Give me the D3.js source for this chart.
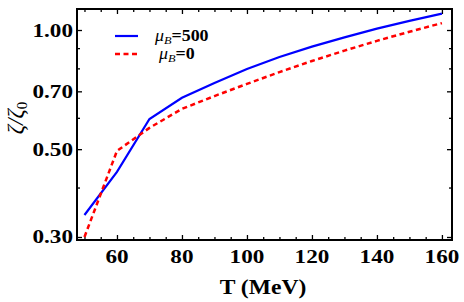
<!DOCTYPE html>
<html>
<head>
<meta charset="utf-8">
<script src="https://cdn.jsdelivr.net/npm/d3@7"></script>
<style>
  body { margin: 0; background: #fff; }
  svg { display: block; }
</style>
</head>
<body>
<svg id="chart" width="464" height="302"></svg>
<script>
// temperature grid (MeV)
var temps = [50, 60, 70, 80, 90, 100, 110, 120, 130, 140, 150, 160];
// zeta/zeta0 for mu_B = 500
var blueVals = [0.341, 0.438, 0.596, 0.674, 0.735, 0.797, 0.855, 0.908, 0.958, 1.008, 1.055, 1.10];
// zeta/zeta0 for mu_B = 0
var redVals = [0.300, 0.495, 0.566, 0.632, 0.681, 0.731, 0.783, 0.835, 0.887, 0.939, 0.990, 1.041];

var xMajor = [60, 80, 100, 120, 140, 160];
var yMajor = [0.30, 0.50, 0.70, 1.00];
var yMinor = [0.4, 0.6, 0.8, 0.9];

var svg = d3.select("#chart");
var pLeft = 77, pRight = 452, pTop = 9, pBottom = 240;
var stretch = 1.22;

var x = d3.scaleLinear().domain([47.7, 163.1]).range([pLeft, pRight]);
var y = d3.scaleLog().domain([0.2948, 1.130]).range([pBottom, pTop]);

var xMinor = d3.range(50, 165, 5).filter(function(d) { return xMajor.indexOf(d) < 0; });

// ticks on four sides, pointing inward
function ticks(axisFn, scale, vals, size, tr) {
  var g = svg.append("g").attr("transform", tr)
    .call(axisFn(scale).tickValues(vals).tickSize(size).tickFormat(""));
  g.select(".domain").remove();
  g.selectAll("line").attr("stroke", "#000").attr("stroke-width", 1.3);
}
ticks(d3.axisTop, x, xMajor, 5, "translate(0," + pBottom + ")");
ticks(d3.axisTop, x, xMinor, 3, "translate(0," + pBottom + ")");
ticks(d3.axisBottom, x, xMajor, 5, "translate(0," + pTop + ")");
ticks(d3.axisBottom, x, xMinor, 3, "translate(0," + pTop + ")");
ticks(d3.axisRight, y, yMajor, 5, "translate(" + pLeft + ",0)");
ticks(d3.axisRight, y, yMinor, 3, "translate(" + pLeft + ",0)");
ticks(d3.axisLeft, y, yMajor, 5, "translate(" + pRight + ",0)");
ticks(d3.axisLeft, y, yMinor, 3, "translate(" + pRight + ",0)");

// frame
svg.append("rect")
  .attr("x", pLeft).attr("y", pTop)
  .attr("width", pRight - pLeft).attr("height", pBottom - pTop)
  .attr("fill", "none").attr("stroke", "#000").attr("stroke-width", 2);

// tick labels
var font = "'Liberation Serif', 'Times New Roman', serif";
svg.selectAll(".xl").data(xMajor).enter().append("text")
  .attr("transform", function(d) { return "translate(" + x(d) + ",263) scale(" + stretch + ",1)"; })
  .attr("text-anchor", "middle")
  .attr("font-family", font).attr("font-weight", "bold").attr("font-size", 19)
  .text(function(d) { return d; });

svg.selectAll(".yl").data(yMajor).enter().append("text")
  .attr("transform", function(d) { return "translate(" + (pLeft - 4) + "," + (y(d) + 6.5) + ") scale(" + stretch + ",1)"; })
  .attr("text-anchor", "end")
  .attr("font-family", font).attr("font-weight", "bold").attr("font-size", 19)
  .text(function(d) { return d.toFixed(2); });

// axis titles
svg.append("text")
  .attr("transform", "translate(263,294) scale(1.18,1)")
  .attr("text-anchor", "middle")
  .attr("font-family", font).attr("font-weight", "bold").attr("font-size", 20)
  .text("T (MeV)");

var yt = svg.append("text")
  .attr("transform", "translate(23,118) rotate(-90)")
  .attr("text-anchor", "middle")
  .attr("font-family", font).attr("font-style", "italic").attr("font-size", 23);
yt.append("tspan").text("\u03B6/\u03B6");
yt.append("tspan").attr("font-size", 15).attr("dy", 4).attr("font-style", "normal").text("0");

// curves
var blueData = temps.map(function(t, i) { return [t, blueVals[i]]; });
var redData = temps.map(function(t, i) { return [t, redVals[i]]; });
var line = d3.line().x(function(d) { return x(d[0]); }).y(function(d) { return y(d[1]); });

svg.append("path").datum(blueData).attr("d", line)
  .attr("fill", "none").attr("stroke", "#0000ff").attr("stroke-width", 2.2);
svg.append("path").datum(redData).attr("d", line)
  .attr("fill", "none").attr("stroke", "#ff0000").attr("stroke-width", 2.5)
  .attr("stroke-dasharray", "5,3.5");

// legend
var legend = [
  { label: "500", color: "#0000ff", dash: null, y: 36, tx: 155 },
  { label: "0", color: "#ff0000", dash: "5,3.5", y: 54, tx: 159 }
];
legend.forEach(function(l) {
  svg.append("line")
    .attr("x1", 115).attr("x2", 138).attr("y1", l.y).attr("y2", l.y)
    .attr("stroke", l.color).attr("stroke-width", l.dash ? 2.5 : 2.2)
    .attr("stroke-dasharray", l.dash);
  var t = svg.append("text")
    .attr("transform", "translate(" + l.tx + "," + (l.y + 5) + ") scale(1.12,1)")
    .attr("font-family", font).attr("font-size", 16);
  t.append("tspan").attr("font-style", "italic").text("\u03BC");
  t.append("tspan").attr("font-style", "italic").attr("font-size", 11).attr("dy", 3).text("B");
  t.append("tspan").attr("font-weight", "bold").attr("dy", -3).text("=" + l.label);
});
</script>
</body>
</html>
